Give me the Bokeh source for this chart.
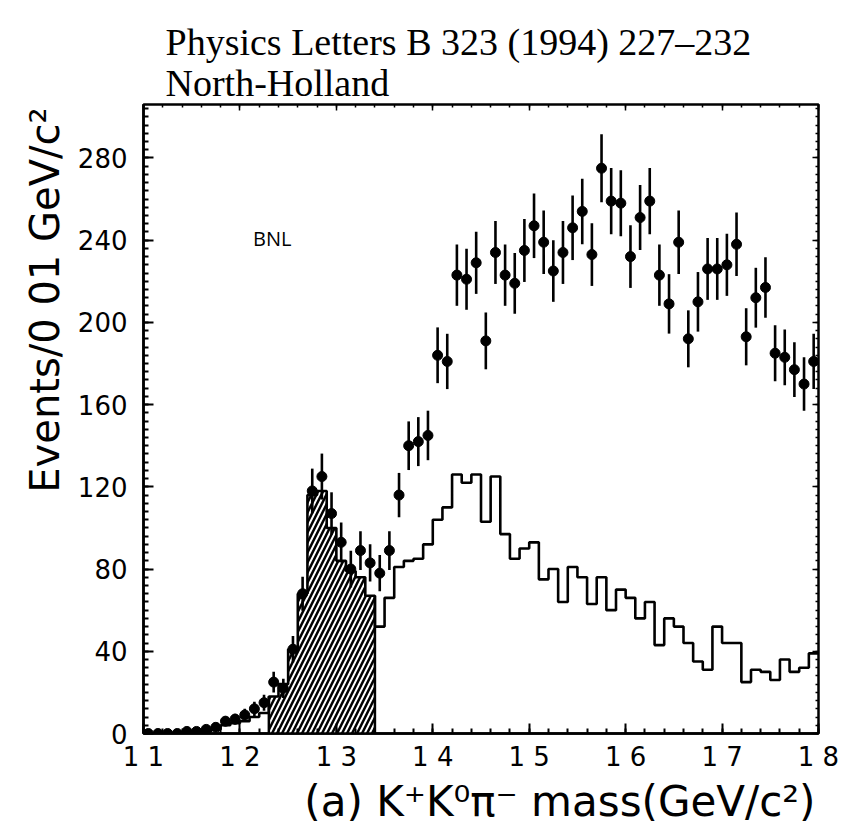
import numpy as np
from bokeh.plotting import figure
from bokeh.models import FixedTicker, LinearAxis, Label, Title
from bokeh.embed import file_html
from bokeh.resources import INLINE

# ---- data (events per 0.01 GeV bin, 1.10 - 1.80 GeV) ----
bin_width = 0.01
x_start = 1.10
n_bins = 70

data_counts = [0, 0, 0, 0, 1, 1, 2, 3, 6, 7, 9, 12, 15,
               25, 22, 41, 68, 118, 125, 107, 93, 80, 89, 83, 78, 89, 116, 140, 142, 145,
               184, 181, 223, 221, 229, 191, 234, 223, 219, 235, 247, 239, 225, 234, 246,
               254, 233, 275, 259, 258, 232, 251, 259, 223, 209, 239, 192, 210, 226, 226,
               228, 238, 193, 212, 217, 185, 183, 177, 170, 181]

hist_counts = [0, 0, 0, 0, 1, 1, 1, 2, 4, 5, 6, 8, 10,
               18, 24, 41, 68, 116, 118, 100, 84, 79, 76, 67,
               52, 66, 81, 84, 85, 92, 104, 110, 126, 122, 126, 103, 125, 97, 85, 90,
               93, 75, 80, 64, 81, 76, 63, 76, 60, 70, 66, 56, 64, 43, 56, 52, 44, 35,
               31, 52, 44, 44, 25, 31, 30, 26, 36, 30, 32, 39]

hatch_first_bin = 13   # 1.23 GeV
hatch_last_bin = 23    # up to 1.34 GeV

x_ticks = [1.1, 1.2, 1.3, 1.4, 1.5, 1.6, 1.7, 1.8]
x_tick_labels = ["1 1", "1 2", "1 3", "1 4", "1 5", "1 6", "1 7", "1 8"]
y_ticks = [0, 40, 80, 120, 160, 200, 240, 280]

edges = [round(x_start + bin_width * k, 4) for k in range(n_bins + 1)]
centers = [round(x_start + bin_width * (k + 0.5), 4) for k in range(n_bins)]
vals = np.array(data_counts, dtype=float)
errs = np.sqrt(vals)

Y_MAX = 306

p = figure(width=848, height=825, x_range=(1.1, 1.8), y_range=(0, Y_MAX),
           output_backend="svg", toolbar_location=None,
           min_border_left=143, min_border_right=30, min_border_top=104, min_border_bottom=85)
p.xgrid.visible = False
p.ygrid.visible = False
p.outline_line_color = "black"
p.outline_line_width = 2.5
p.background_fill_color = "white"
p.border_fill_color = "white"

# hatched area
hx = edges[hatch_first_bin:hatch_last_bin + 2]
hy = hist_counts[hatch_first_bin:hatch_last_bin + 1] + [hist_counts[hatch_last_bin]]
p.varea_step(x=hx, y1=[0] * len(hx), y2=hy, step_mode="after",
             fill_color="white", hatch_pattern="/", hatch_color="black",
             hatch_weight=2.5, hatch_scale=10)
p.segment(x0=[hx[0], hx[-1]], y0=[0, 0], x1=[hx[0], hx[-1]], y1=[hy[0], hy[-1]],
          line_color="black", line_width=2.5)

# histogram
p.step(x=edges, y=hist_counts + [hist_counts[-1]], mode="after",
       line_color="black", line_width=2.6)

# data points with errors
p.segment(x0=centers, y0=list(vals - errs), x1=centers, y1=list(vals + errs),
          line_color="black", line_width=2.6)
p.scatter(x=centers, y=data_counts, size=10, marker="circle",
          fill_color="black", line_color="black")

# axes
xt = FixedTicker(ticks=x_ticks, minor_ticks=[round(1.1 + 0.02 * k, 3) for k in range(36)])
yt = FixedTicker(ticks=y_ticks, minor_ticks=list(range(0, 308, 4)))
p.xaxis.ticker = xt
p.yaxis.ticker = yt
p.xaxis.major_label_overrides = {t: l for t, l in zip(x_ticks, x_tick_labels)}
for ax in (p.xaxis[0], p.yaxis[0]):
    ax.axis_line_width = 2.5
    ax.axis_line_color = "black"
    ax.major_tick_in = 10
    ax.major_tick_out = 0
    ax.minor_tick_in = 5
    ax.minor_tick_out = 0
    ax.major_tick_line_width = 2
    ax.minor_tick_line_width = 2
    ax.major_label_text_font = "DejaVu Sans"
    ax.major_label_text_font_size = "26px"
    ax.major_label_text_color = "black"
p.xaxis.major_label_standoff = 8
p.yaxis.major_label_standoff = 16

for loc in ("right", "above"):
    ax = LinearAxis(ticker=yt if loc == "right" else xt)
    ax.axis_line_color = None
    ax.major_tick_in = 6
    ax.major_tick_out = 0
    ax.minor_tick_in = 3
    ax.minor_tick_out = 0
    ax.major_tick_line_width = 1.5
    ax.minor_tick_line_width = 1.5
    ax.major_label_standoff = 9 if loc == "above" else 0
    ax.major_label_text_font_size = "0px"
    ax.major_label_text_alpha = 0
    p.add_layout(ax, loc)

# header (journal reference), two lines
p.add_layout(Title(text="Physics Letters B 323 (1994) 227\u2013232\nNorth-Holland",
                   text_font="Liberation Serif",
                   text_font_size="38px", text_font_style="normal", text_color="black",
                   align="left", offset=22, standoff=0, text_line_height=0.98), "above")

# axis titles
p.add_layout(Title(text="(a) K\u207aK\u2070\u03c0\u207b mass(GeV/c\u00b2)", text_font="DejaVu Sans",
                   text_font_size="42px", text_font_style="normal", text_color="black",
                   align="right", offset=3, standoff=0), "below")
p.add_layout(Title(text="Events/0 01 GeV/c\u00b2", text_font="DejaVu Sans",
                   text_font_size="40px", text_font_style="normal", text_color="black",
                   align="right", offset=3, standoff=14), "left")

p.add_layout(Label(x=1.2335, y=241, text="BNL", text_font="Open Sans",
                   text_font_size="20px", text_color="black", text_align="center",
                   text_baseline="middle"))

open("out.html", "w").write(file_html(p, INLINE))
